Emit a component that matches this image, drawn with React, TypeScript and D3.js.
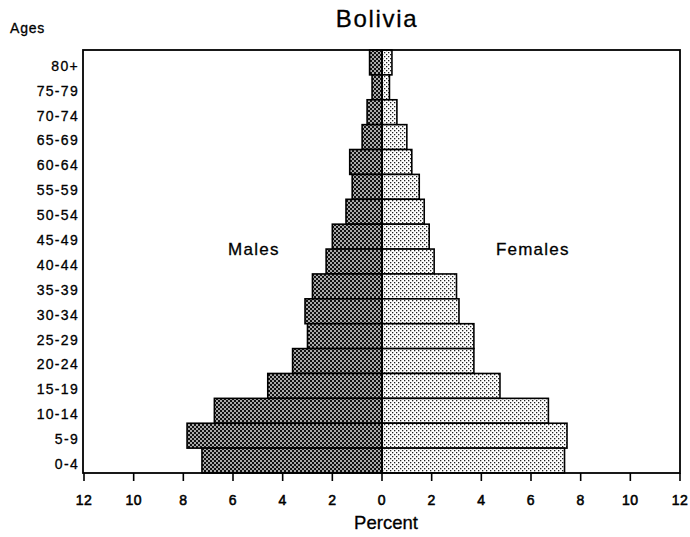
import React from "react";
import * as d3 from "d3";

const ages = ["80+", "75-79", "70-74", "65-69", "60-64", "55-59", "50-54", "45-49", "40-44", "35-39", "30-34", "25-29", "20-24", "15-19", "10-14", "5-9", "0-4"];
const males = [0.5, 0.4, 0.6, 0.8, 1.3, 1.2, 1.45, 2.0, 2.25, 2.8, 3.1, 3.0, 3.6, 4.6, 6.75, 7.85, 7.25];
const females = [0.4, 0.3, 0.6, 1.0, 1.2, 1.5, 1.7, 1.9, 2.1, 3.0, 3.1, 3.7, 3.7, 4.75, 6.7, 7.45, 7.35];
const xTicks = [-12, -10, -8, -6, -4, -2, 0, 2, 4, 6, 8, 10, 12];

const W = 690;
const H = 537;
const left = 83;
const right = 680;
const top = 50;
const bottom = 473;

const FONT = "'Liberation Sans', Arial, Helvetica, sans-serif";

export default function App() {
  const x = d3.scaleLinear().domain([-12, 12]).range([84, 680]);
  const y = d3.scaleBand<string>().domain(ages).range([top, bottom]).padding(0);
  const x0 = x(0);
  const textStyle = { fontFamily: FONT, fill: "#000", stroke: "#000", strokeWidth: 0.3 } as const;
  const tickStyle = { fontFamily: FONT, fill: "#000", stroke: "#000", strokeWidth: 0.55 } as const;

  return (
    <svg width={W} height={H} style={{ position: "absolute", left: 0, top: 0, background: "#fff" }}>
      <defs>
        <pattern id="malePat" width={4} height={4} patternUnits="userSpaceOnUse">
          <rect width={4} height={4} fill="#111" />
          <rect x={0.2} y={0.2} width={1.6} height={1.6} fill="#fff" />
          <rect x={2.2} y={2.2} width={1.6} height={1.6} fill="#fff" />
        </pattern>
        <pattern id="femalePat" width={4} height={4} patternUnits="userSpaceOnUse">
          <rect width={4} height={4} fill="#fff" />
          <rect x={0} y={0} width={1.3} height={1.3} fill="#222" />
          <rect x={2} y={2} width={1.3} height={1.3} fill="#222" />
        </pattern>
      </defs>

      <rect x={0} y={0} width={W} height={H} fill="#fff" />

      {/* Title */}
      <text x={377} y={27} textAnchor="middle" fontSize={24} letterSpacing={1.7} style={textStyle}>
        Bolivia
      </text>
      <text x={10} y={33} fontSize={14} letterSpacing={0.8} style={textStyle}>
        Ages
      </text>

      {/* Bars */}
      {ages.map((a, i) => (
        <g key={a}>
          <rect
            x={x(-males[i])}
            y={y(a)!}
            width={x0 - x(-males[i])}
            height={y.bandwidth()}
            fill="url(#malePat)"
            stroke="#000"
            strokeWidth={1.6}
          />
          <rect
            x={x0}
            y={y(a)!}
            width={x(females[i]) - x0}
            height={y.bandwidth()}
            fill="url(#femalePat)"
            stroke="#000"
            strokeWidth={1.6}
          />
        </g>
      ))}

      {/* Center line */}
      <line x1={x0} x2={x0} y1={top} y2={bottom} stroke="#000" strokeWidth={2} />

      {/* Frame */}
      <rect x={left} y={top} width={right - left} height={bottom - top} fill="none" stroke="#000" strokeWidth={1.8} />

      {/* Age labels */}
      {ages.map((a) => (
        <text
          key={"l" + a}
          x={79}
          y={y(a)! + y.bandwidth() / 2 + 8.4}
          textAnchor="end"
          fontSize={14}
          letterSpacing={1.3}
          style={textStyle}
        >
          {a}
        </text>
      ))}

      {/* X ticks */}
      {xTicks.map((t) => (
        <g key={"t" + t}>
          <line x1={x(t)} x2={x(t)} y1={bottom} y2={bottom + 8} stroke="#000" strokeWidth={1.6} />
          <text x={x(t)} y={505} textAnchor="middle" fontSize={14} letterSpacing={0.5} style={tickStyle}>
            {Math.abs(t)}
          </text>
        </g>
      ))}

      <text x={386} y={529} textAnchor="middle" fontSize={18.5} style={textStyle}>
        Percent
      </text>

      <text x={228} y={255} fontSize={17} letterSpacing={1.3} style={textStyle}>
        Males
      </text>
      <text x={496} y={255} fontSize={17} letterSpacing={1.2} style={textStyle}>
        Females
      </text>
    </svg>
  );
}
